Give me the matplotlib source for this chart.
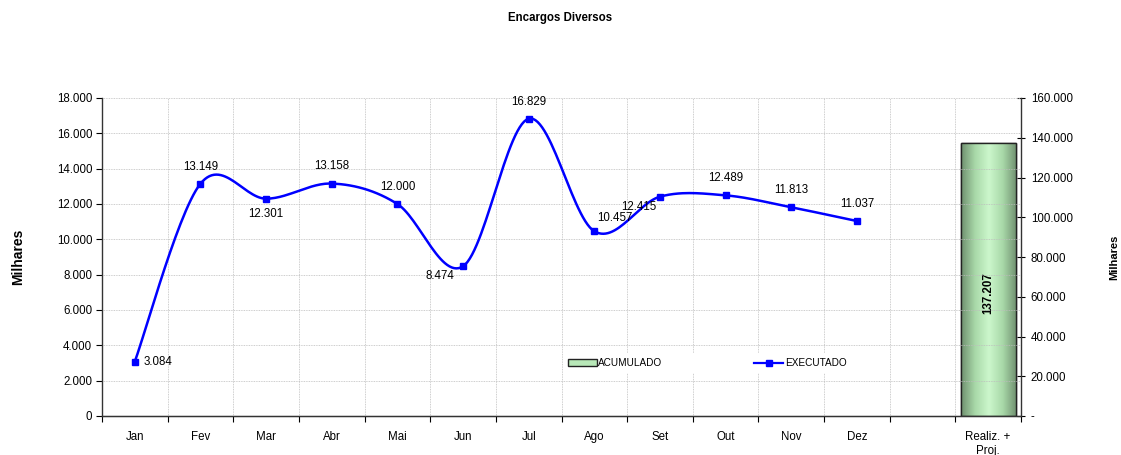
import numpy as np
import matplotlib
matplotlib.use("Agg")
import matplotlib.pyplot as plt
from matplotlib.patches import Patch
from matplotlib.lines import Line2D
from matplotlib.colors import LinearSegmentedColormap

plt.rcParams['font.family'] = ['Liberation Sans', 'DejaVu Sans']

categories = ["Jan", "Fev", "Mar", "Abr", "Mai", "Jun", "Jul", "Ago", "Set", "Out", "Nov", "Dez", "", "Realiz. +\nProj."]
executado = [3084, 13149, 12301, 13158, 12000, 8474, 16829, 10457, 12415, 12489, 11813, 11037]
acumulado = 137207
left_ticks = list(range(0, 18001, 2000))
right_ticks = list(range(0, 160001, 20000))

def fmt(v):
    return f"{v:,.0f}".replace(",", ".")

def catmull(xs, ys, n=30):
    P = np.column_stack([xs, ys]).astype(float)
    Pe = np.vstack([P[0], P, P[-1]])
    out = []
    for i in range(1, len(Pe) - 2):
        p0, p1, p2, p3 = Pe[i - 1], Pe[i], Pe[i + 1], Pe[i + 2]
        c1 = p1 + (p2 - p0) / 6
        c2 = p2 - (p3 - p1) / 6
        t = np.linspace(0, 1, n)[:, None]
        seg = (1 - t) ** 3 * p1 + 3 * (1 - t) ** 2 * t * c1 + 3 * (1 - t) * t ** 2 * c2 + t ** 3 * p2
        out.append(seg if i == 1 else seg[1:])
    s = np.vstack(out)
    return s[:, 0], s[:, 1]

fig = plt.figure(figsize=(11.21, 4.55), dpi=100)
ax = fig.add_axes([102 / 1121, 39 / 455, 919 / 1121, 318 / 455])
ax2 = ax.twinx()

x = np.arange(len(executado))
ax.set_xlim(-0.5, len(categories) - 0.5)
ax.set_ylim(0, 18000)
ax2.set_ylim(0, 160000)

gridkw = dict(color='#bdbdbd', linestyle=(0, (1, 1)), linewidth=0.6)
ax.set_yticks(left_ticks)
ax.set_yticklabels([fmt(v) for v in left_ticks], fontsize=8.3)
ax.set_xticks(np.arange(len(categories)))
ax.set_xticklabels(categories, fontsize=8.3)
ax.tick_params(axis='x', which='major', length=0, pad=11)
ax.set_xticks(np.arange(len(categories) + 1) - 0.5, minor=True)
ax.tick_params(axis='x', which='minor', length=4, direction='out', width=0.8)
ax.tick_params(axis='y', length=4, direction='out', width=0.8, pad=3)
ax.grid(True, axis='y', which='major', **gridkw)
ax.grid(True, axis='x', which='minor', **gridkw)
ax.set_axisbelow(True)
for s in ['top']:
    ax.spines[s].set_visible(False)
    ax2.spines[s].set_visible(False)
ax2.spines['left'].set_visible(False)
ax.spines['right'].set_visible(False)
for sp in [ax.spines['left'], ax.spines['bottom'], ax2.spines['right']]:
    sp.set_color('#333333')
    sp.set_linewidth(1.0)

ax2.set_yticks(right_ticks)
ax2.set_yticklabels(["-"] + [fmt(v) for v in right_ticks[1:]], fontsize=8.3)
ax2.tick_params(axis='y', length=6, direction='inout', width=0.8, pad=4)

# bar with gradient
bx = len(categories) - 1
bars = ax2.bar([bx], [acumulado], width=0.84, color='#b8e8b8', edgecolor='#222222', linewidth=1.0, zorder=2)
cmap = LinearSegmentedColormap.from_list('g', ['#6f8f6f', '#a8d8a8', '#ccf7cc', '#a8d8a8', '#6f8f6f'])
grad = np.linspace(0, 1, 256)[None, :]
im = ax2.imshow(grad, cmap=cmap, aspect='auto', extent=[bx - 0.42, bx + 0.42, 0, acumulado], zorder=2.5)
im.set_clip_path(bars[0])
ax2.bar([bx], [acumulado], width=0.84, fill=False, edgecolor='#222222', linewidth=1.0, zorder=3)
ax2.set_xlim(-0.5, len(categories) - 0.5)
ax2.text(bx, acumulado * 0.45, fmt(acumulado), rotation=90, ha='center', va='center',
         fontsize=8.3, fontweight='bold', zorder=4)

# line
sx, sy = catmull(x, executado)
ax.plot(sx, sy, color='#0000ff', linewidth=1.8, zorder=5)
ax.plot(x, executado, linestyle='none', marker='s', markersize=5, color='#0000ff', zorder=6)

offsets = [(6, 0, 'left', 'center'), (0, 8, 'center', 'bottom'), (0, -7, 'center', 'top'),
           (0, 8, 'center', 'bottom'), (0, 8, 'center', 'bottom'), (-6, -3, 'right', 'top'),
           (0, 8, 'center', 'bottom'), (2, 5, 'left', 'bottom'), (-15, -3, 'center', 'top'),
           (0, 8, 'center', 'bottom'), (0, 8, 'center', 'bottom'), (0, 8, 'center', 'bottom')]
for xi, v, (dx, dy, ha, va) in zip(x, executado, offsets):
    ax.annotate(fmt(v), (xi, v), xytext=(dx, dy), textcoords='offset points', ha=ha, va=va,
                fontsize=8.3, zorder=7)

ax.set_ylabel("Milhares", fontsize=10, fontweight='bold')
ax.yaxis.set_label_coords((25 - 102) / 919, 0.5)
ax2.set_ylabel("Milhares", fontsize=8, fontweight='bold', rotation=90)
ax2.yaxis.set_label_coords((1109 - 102) / 919, 0.5)
fig.text(0.5, 1 - 18 / 455, "Encargos Diversos", ha='center', va='center', fontsize=8.3, fontweight='bold')

ax.set_zorder(ax2.get_zorder() + 1)
ax.patch.set_visible(False)

handles = [Patch(facecolor='#b8e8b8', edgecolor='#222222', linewidth=1.0),
           Line2D([0], [0], color='#0000ff', linewidth=1.6, marker='s', markersize=5)]
leg = ax.legend(handles, ["ACUMULADO", "EXECUTADO"], ncol=2, loc='center',
                bbox_to_anchor=((707 - 102) / 919, (416 - 363) / 318), fontsize=7.2,
                frameon=True, facecolor='white', edgecolor='none', framealpha=1,
                columnspacing=9.2, handlelength=2.9, handleheight=0.6, handletextpad=0.15,
                borderpad=0.5, fancybox=False)

fig.savefig("out.png", dpi=100)
